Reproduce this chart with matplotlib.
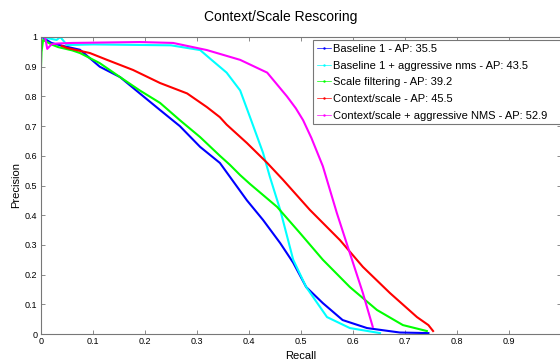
import matplotlib
matplotlib.use("Agg")
import matplotlib.pyplot as plt
from matplotlib.lines import Line2D

plt.rcParams['font.family'] = ['Liberation Sans', 'DejaVu Sans']

# ---------------------------------------------------------
# Precision / recall curves
# ---------------------------------------------------------

labels = [
    'Baseline 1 - AP: 35.5',
    'Baseline 1 + aggressive nms - AP: 43.5',
    'Scale filtering - AP: 39.2',
    'Context/scale - AP: 45.5',
    'Context/scale + aggressive NMS - AP: 52.9',
]
colors = ['#0000ff', '#00ffff', '#00ff00', '#ff0000', '#ff00ff']

blue_recall = [0.002, 0.02, 0.042, 0.075, 0.113, 0.152, 0.19, 0.229, 0.267, 0.306,
               0.344, 0.363, 0.396, 0.427, 0.46, 0.485, 0.51, 0.542, 0.58, 0.627,
               0.69, 0.745]
blue_prec = [1.0, 0.98, 0.97, 0.957, 0.9, 0.865, 0.81, 0.754, 0.70, 0.63,
             0.576, 0.53, 0.45, 0.384, 0.306, 0.24, 0.158, 0.104, 0.047, 0.02,
             0.005, 0.003]

cyan_recall = [0.002, 0.03, 0.037, 0.05, 0.1, 0.25, 0.306, 0.33, 0.357, 0.383,
               0.402, 0.427, 0.44, 0.46, 0.485, 0.51, 0.55, 0.594, 0.652]
cyan_prec = [1.0, 0.99, 1.0, 0.973, 0.975, 0.972, 0.956, 0.92, 0.88, 0.82,
             0.73, 0.61, 0.53, 0.418, 0.25, 0.158, 0.057, 0.02, 0.003]

green_recall = [0.0, 0.001, 0.004, 0.02, 0.033, 0.06, 0.075, 0.113, 0.152, 0.19,
                0.229, 0.267, 0.306, 0.344, 0.363, 0.383, 0.402, 0.454, 0.498,
                0.542, 0.594, 0.646, 0.696, 0.742]
green_prec = [0.9, 0.95, 0.99, 0.975, 0.966, 0.955, 0.946, 0.912, 0.865, 0.82,
              0.778, 0.72, 0.663, 0.60, 0.57, 0.535, 0.505, 0.428, 0.34,
              0.25, 0.158, 0.081, 0.03, 0.01]

red_recall = [0.04, 0.05, 0.094, 0.127, 0.177, 0.229, 0.281, 0.319, 0.344, 0.357,
              0.396, 0.435, 0.465, 0.517, 0.575, 0.619, 0.671, 0.723, 0.745, 0.754]
red_prec = [0.97, 0.963, 0.946, 0.923, 0.889, 0.845, 0.81, 0.764, 0.73, 0.705,
            0.643, 0.576, 0.52, 0.418, 0.316, 0.226, 0.138, 0.057, 0.03, 0.01]

mag_recall = [0.0, 0.008, 0.012, 0.02, 0.03, 0.06, 0.19, 0.254, 0.319, 0.383,
              0.435, 0.473, 0.49, 0.504, 0.52, 0.542, 0.569, 0.594, 0.619, 0.638]
mag_prec = [1.0, 1.0, 0.96, 0.975, 0.978, 0.98, 0.983, 0.98, 0.956, 0.923,
            0.88, 0.8, 0.76, 0.72, 0.66, 0.565, 0.407, 0.272, 0.138, 0.024]

curves = [
    (blue_recall, blue_prec),
    (cyan_recall, cyan_prec),
    (green_recall, green_prec),
    (red_recall, red_prec),
    (mag_recall, mag_prec),
]

x_ticks = [0, 0.1, 0.2, 0.3, 0.4, 0.5, 0.6, 0.7, 0.8, 0.9]
x_tick_labels = ['0', '0.1', '0.2', '0.3', '0.4', '0.5', '0.6', '0.7', '0.8', '0.9']
y_ticks = [0, 0.1, 0.2, 0.3, 0.4, 0.5, 0.6, 0.7, 0.8, 0.9, 1]
y_tick_labels = ['0', '0.1', '0.2', '0.3', '0.4', '0.5', '0.6', '0.7', '0.8', '0.9', '1']

# ---------------------------------------------------------
# Figure
# ---------------------------------------------------------

fig = plt.figure(figsize=(5.6, 3.62), dpi=100)
ax = fig.add_axes([41 / 560, 28 / 362, 520 / 560, 297 / 362])

for (rx, py), col in zip(curves, colors):
    ax.plot(rx, py, color=col, linewidth=1.5)

ax.set_xlim(0, 1)
ax.set_ylim(0, 1)
ax.set_xticks(x_ticks)
ax.set_xticklabels(x_tick_labels)
ax.set_yticks(y_ticks)
ax.set_yticklabels(y_tick_labels)

ax.tick_params(direction='in', length=3, width=0.6, color='#777777',
               labelsize=6.5, top=True, right=True, pad=2.5)
for sp in ax.spines.values():
    sp.set_color('#777777')
    sp.set_linewidth(0.8)

ax.set_xlabel('Recall', fontsize=8, labelpad=3)
ax.set_ylabel('Precision', fontsize=8, labelpad=3)
fig.text(281 / 560, 1 - 17 / 362, 'Context/Scale Rescoring',
         fontsize=10, ha='center', va='center')

# thin legend handles, like the original
handles = [Line2D([], [], color=c, linewidth=0.5, marker='.', markersize=1.5)
           for c in colors]

leg = ax.legend(handles, labels, loc='upper left',
                bbox_to_anchor=(313 / 560, 1 - 40 / 362, 262 / 560, 0),
                bbox_transform=fig.transFigure, borderaxespad=0, mode='expand',
                fontsize=8, handlelength=1.3, handletextpad=0.15,
                labelspacing=0.6, borderpad=0.35, fancybox=False,
                framealpha=1, edgecolor='#777777')
leg.get_frame().set_linewidth(0.8)

fig.savefig('out.png', dpi=100)
